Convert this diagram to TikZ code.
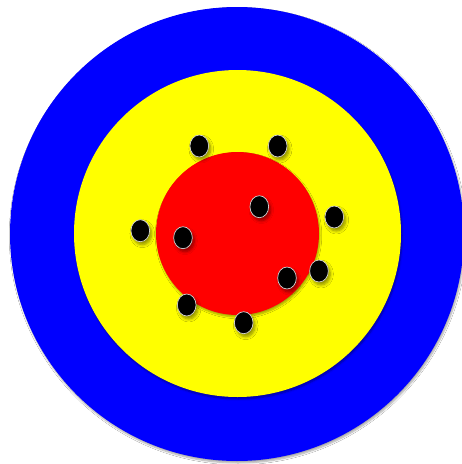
\documentclass[tikz,border=0pt]{standalone}
\usetikzlibrary{shapes.geometric,shadows.blur}
\definecolor{tblue}{RGB}{0,0,255}
\definecolor{tyellow}{RGB}{255,255,0}
\definecolor{tred}{RGB}{255,0,0}
\tikzset{
  ring/.style={blur shadow={shadow xshift=1pt,shadow yshift=-2pt,shadow blur steps=6,shadow opacity=35}},
  hole/.style={ellipse, fill=black, draw=gray!35, line width=0.7pt, inner sep=0pt,
    minimum width=18.7pt, minimum height=22pt,
    blur shadow={shadow xshift=2pt,shadow yshift=-3pt,shadow blur radius=3pt,shadow blur steps=6,shadow opacity=45}}
}
\begin{document}
\begin{tikzpicture}[x=1pt,y=-1pt]
\useasboundingbox (0,0) rectangle (462,464);
\fill[white] (0,0) rectangle (462,464);
\fill[tblue,ring] (237,234) circle[radius=227];
\fill[tyellow,ring] (237.5,233.5) circle[radius=163.5];
\fill[tred,ring] (237.5,233.5) circle[radius=81.5];
\node[hole] (d1) at (199.3,146) {};
\node[hole] (d2) at (277.7,146) {};
\node[hole] (d3) at (259.3,206.7) {};
\node[hole] (d4) at (334.3,217) {};
\node[hole] (d5) at (140.3,230.7) {};
\node[hole] (d6) at (183,237.7) {};
\node[hole] (d7) at (319,271) {};
\node[hole] (d8) at (287,278) {};
\node[hole] (d9) at (186.7,305) {};
\node[hole] (d10) at (243.7,322.7) {};
\end{tikzpicture}
\end{document}
